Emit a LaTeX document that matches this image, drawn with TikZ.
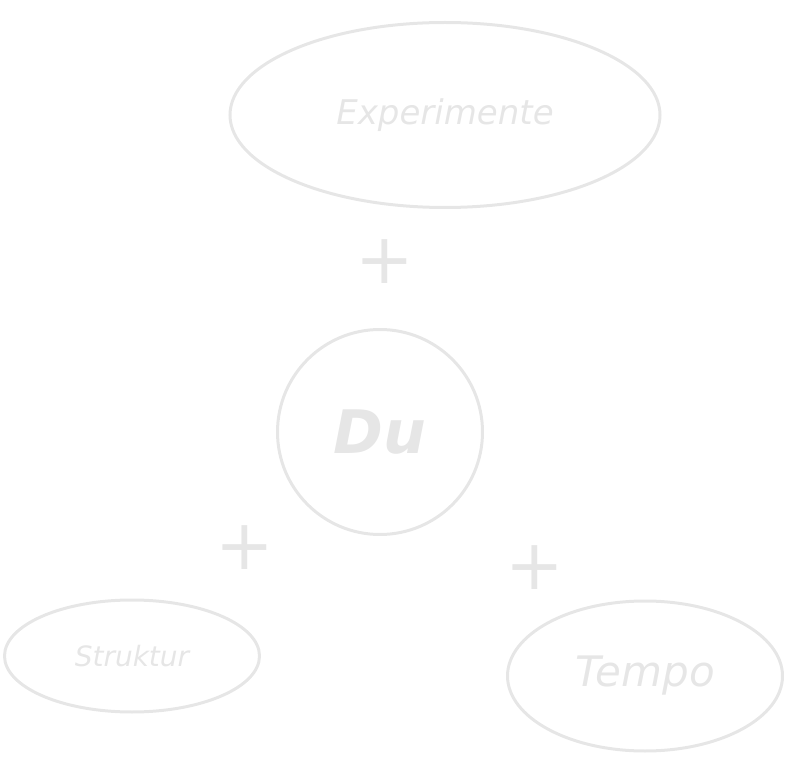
\documentclass[tikz,border=0pt]{standalone}
\usepackage{fontspec}
\setmainfont{DejaVu Sans}
\usetikzlibrary{shapes.geometric}
\definecolor{sketch}{RGB}{230,230,230}
\tikzset{
 blob/.style={draw=sketch, line width=3pt, ellipse, inner sep=0pt, text=sketch, font=\itshape},
 plus/.style={text=sketch, font=\fontsize{70}{70}\selectfont}
}
\begin{document}
\begin{tikzpicture}[x=1pt,y=-1pt]
\useasboundingbox (0,0) rectangle (788,767);

\node[blob, minimum width=430, minimum height=185, font=\itshape\fontsize{34}{34}\selectfont] (exp) at (445,115) {Experimente};
\node[plus] (p1) at (385,262) {+};

\node[blob, circle, minimum size=205, font=\bfseries\itshape\fontsize{60}{60}\selectfont] (du) at (380,432) {Du};
\node[plus] (p2) at (245,548) {+};
\node[plus] (p3) at (535,568) {+};

\node[blob, minimum width=255, minimum height=112, font=\itshape\fontsize{28}{28}\selectfont] (str) at (132,656) {Struktur};
\node[blob, minimum width=275, minimum height=150, font=\itshape\fontsize{42}{42}\selectfont] (tem) at (645,676) {Tempo};

\end{tikzpicture}
\end{document}
